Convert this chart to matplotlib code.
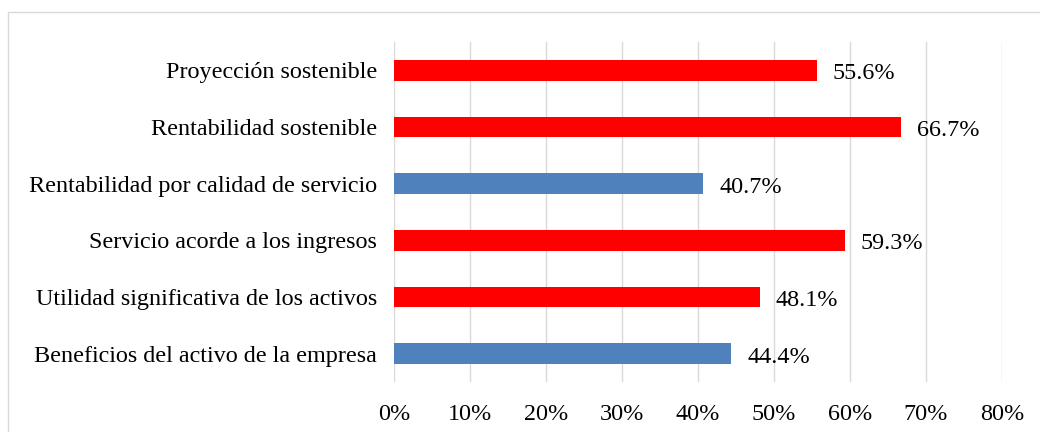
import matplotlib.pyplot as plt
from matplotlib.patches import Rectangle
from matplotlib.ticker import FuncFormatter

# data (bottom to top)
categories = [
    'Beneficios del activo de la empresa',
    'Utilidad significativa de los activos',
    'Servicio acorde a los ingresos',
    'Rentabilidad por calidad de servicio',
    'Rentabilidad sostenible',
    'Proyección sostenible',
]
values = [44.4, 48.1, 59.3, 40.7, 66.7, 55.6]
bar_colors = ['#4F81BD', '#FF0000', '#FF0000', '#4F81BD', '#FF0000', '#FF0000']

plt.rcParams['font.family'] = ['Liberation Serif', 'DejaVu Serif']
fs = 17.4

fig = plt.figure(figsize=(10.4, 4.32), dpi=100)
ax = fig.add_axes([394 / 1040, 50 / 432, 608 / 1040, 340 / 432])

# light border around the chart area
fig.patches.append(Rectangle((8 / 1040, -0.1), 1.1, (432 - 12) / 432 + 0.1,
                             transform=fig.transFigure, fill=False,
                             edgecolor='#D9D9D9', linewidth=1))

ypos = range(len(categories))
ax.barh(ypos, values, height=0.37, color=bar_colors, zorder=3)

for y, v in zip(ypos, values):
    ax.text(v + 2.1, y - 0.06, '{:.1f}%'.format(v), va='center', ha='left',
            fontsize=fs)

ax.set_xlim(0, 80)
ax.set_ylim(-0.5, len(categories) - 0.5)
ax.set_xticks(range(0, 81, 10))
ax.xaxis.set_major_formatter(FuncFormatter(lambda x, p: '{:.0f}%'.format(x)))
ax.set_yticks(list(ypos))
ax.set_yticklabels(categories)
ax.tick_params(axis='both', length=0, labelsize=fs)
ax.tick_params(axis='y', pad=12)
ax.tick_params(axis='x', pad=16)
ax.grid(axis='x', color='#D9D9D9', linewidth=1, zorder=0)
for s in ax.spines.values():
    s.set_visible(False)

fig.savefig('out.png', dpi=100)
